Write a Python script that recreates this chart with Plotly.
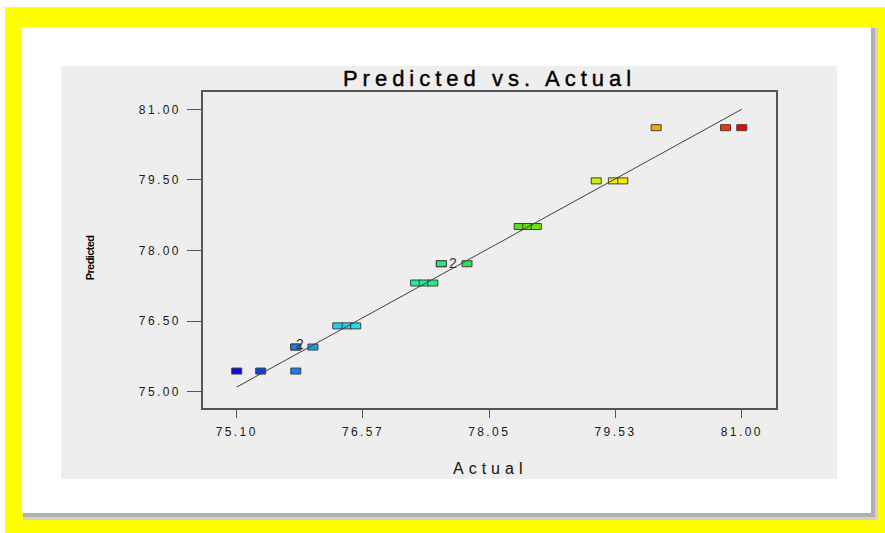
import plotly.graph_objects as go
from plotly.colors import sample_colorscale

# Actual vs. predicted response values
actual = [75.10, 75.38, 75.79, 75.79, 75.79, 75.99,
          76.28, 76.39, 76.49,
          77.19, 77.29, 77.39,
          77.49, 77.49, 77.79,
          78.40, 78.50, 78.60,
          79.30, 79.50, 79.61,
          80.00, 80.81, 81.00]
predicted = [75.44, 75.44, 75.44, 75.95, 75.95, 75.95,
             76.40, 76.40, 76.40,
             77.31, 77.31, 77.31,
             77.72, 77.72, 77.72,
             78.51, 78.51, 78.51,
             79.48, 79.48, 79.48,
             80.61, 80.61, 80.61]

# Replicate counts shown next to overlapping points
count_labels = [("2", 75.79, 75.95), ("2", 77.49, 77.72)]

x_tickvals = [75.10, 76.575, 78.05, 79.525, 81.00]
x_ticktext = ["75.10", "76.57", "78.05", "79.53", "81.00"]
y_tickvals = [75.00, 76.50, 78.00, 79.50, 81.00]
y_ticktext = ["75.00", "76.50", "78.00", "79.50", "81.00"]

W, H = 885, 533
L, R, T, B = 203, 776, 92, 408   # plot-area pixel box


def px(x):
    return (x - L) / (R - L)


def py(y):
    return (B - y) / (B - T)


# blue -> cyan -> green -> yellow -> red, keyed on the actual value
scale = [[0.0, "#0010e0"], [0.05, "#1040e0"], [0.12, "#1a80f0"],
         [0.21, "#20d8f8"], [0.36, "#20eca0"], [0.48, "#30e040"],
         [0.58, "#60e010"], [0.71, "#d0f000"], [0.76, "#f8f000"],
         [0.84, "#ffa000"], [0.97, "#ff3000"], [1.0, "#ff0000"]]
lo, hi = min(actual), max(actual)
colors = sample_colorscale(scale, [(a - lo) / (hi - lo) for a in actual])

fig = go.Figure()

# 1:1 reference line across the range of actual values
fig.add_trace(go.Scatter(x=[lo, hi], y=[lo, hi], mode="lines",
                         line=dict(color="#404040", width=1),
                         hoverinfo="skip", showlegend=False))

shapes = []
# page frame: white edge, yellow border, shadowed white card, grey panel
shapes.append(dict(type="rect", xref="paper", yref="paper", layer="below",
                   x0=px(0), x1=px(W), y0=py(0), y1=py(7),
                   fillcolor="white", line_width=0))
shapes.append(dict(type="rect", xref="paper", yref="paper", layer="below",
                   x0=px(0), x1=px(5), y0=py(0), y1=py(H),
                   fillcolor="white", line_width=0))
shapes.append(dict(type="rect", xref="paper", yref="paper", layer="below",
                   x0=px(23), x1=px(878), y0=py(28), y1=py(520),
                   fillcolor="#d4d4c0", line_width=0))
shapes.append(dict(type="rect", xref="paper", yref="paper", layer="below",
                   x0=px(23), x1=px(875), y0=py(28), y1=py(517),
                   fillcolor="#b0b0b0", line_width=0))
shapes.append(dict(type="rect", xref="paper", yref="paper", layer="below",
                   x0=px(22), x1=px(871), y0=py(27), y1=py(513),
                   fillcolor="white", line_width=0))
shapes.append(dict(type="rect", xref="paper", yref="paper", layer="below",
                   x0=px(61), x1=px(837), y0=py(66), y1=py(479),
                   fillcolor="#eeeeee", line_width=0))

# rectangular point markers anchored at each (actual, predicted) pair
for a, p, c in zip(actual, predicted, colors):
    shapes.append(dict(type="rect", xref="x", yref="y", layer="between",
                       xsizemode="pixel", ysizemode="pixel",
                       xanchor=a, yanchor=p, x0=-5, x1=5, y0=-3, y1=3,
                       fillcolor=c, line=dict(color="#404040", width=1)))

label_shift = [(4, 3), (12, 1)]
annotations = []
for (txt, a, p), (dx, dy) in zip(count_labels, label_shift):
    annotations.append(dict(x=a, y=p, xref="x", yref="y", text=txt,
                            showarrow=False, xshift=dx, yshift=dy,
                            font=dict(family="Liberation Sans", size=14,
                                      color="#333333")))

annotations.append(dict(x=0.5, y=py(468), xref="paper", yref="paper",
                        text="Actual", showarrow=False, yanchor="middle",
                        font=dict(family="Liberation Sans", size=16,
                                  color="#111111")))
annotations.append(dict(x=px(90), y=py(258), xref="paper", yref="paper",
                        text="<b>Predicted</b>", textangle=-90,
                        xanchor="center", yanchor="middle",
                        showarrow=False,
                        font=dict(family="Liberation Sans", size=11,
                                  color="#000000")))

tickfont = dict(family="Liberation Sans", size=12, color="#1a1a1a")
fig.update_layout(
    width=W, height=H,
    margin=dict(l=L, r=W - R, t=T, b=H - B, pad=0),
    paper_bgcolor="#ffff00",
    plot_bgcolor="#eeeeee",
    title=dict(text="Predicted vs. Actual", x=px((L + R) / 2), xref="paper",
               y=1 - 78 / H, yanchor="middle", xanchor="center",
               font=dict(family="Liberation Sans", size=22,
                         color="#000000")),
    xaxis=dict(range=[74.706, 81.40], tickvals=x_tickvals,
               ticktext=x_ticktext, ticks="outside", ticklen=8,
               tickcolor="#555555", showgrid=False, zeroline=False,
               showline=True, mirror=True, linecolor="#555555",
               linewidth=1.5, tickfont=tickfont, ticklabelstandoff=4),
    yaxis=dict(range=[74.655, 81.368], tickvals=y_tickvals,
               ticktext=y_ticktext, ticks="outside", ticklen=14,
               tickcolor="#555555", showgrid=False, zeroline=False,
               showline=True, mirror=True, linecolor="#555555",
               linewidth=1.5, tickfont=tickfont, ticklabelstandoff=4),
    shapes=shapes,
    annotations=annotations,
    showlegend=False,
)

# widen the letter spacing of the chart texts
spacing_js = """
document.body.style.margin = '0';
var gd = document.getElementsByClassName('plotly-graph-div')[0];
function spaceText() {
  gd.querySelectorAll('.gtitle').forEach(function (t) { t.style.letterSpacing = '5px'; t.style.strokeWidth = '0.4px'; t.style.stroke = '#000'; });
  gd.querySelectorAll('.xtick text, .ytick text').forEach(function (t) { t.style.letterSpacing = '2.4px'; });
  gd.querySelectorAll('.annotation-text').forEach(function (t) {
    if (t.textContent === 'Actual') { t.style.letterSpacing = '5px'; }
    if (t.textContent === 'Predicted') { t.style.letterSpacing = '-0.6px'; }
  });
}
spaceText();
"""

fig.write_html("out.html", post_script=spacing_js,
               config={"displayModeBar": False})
